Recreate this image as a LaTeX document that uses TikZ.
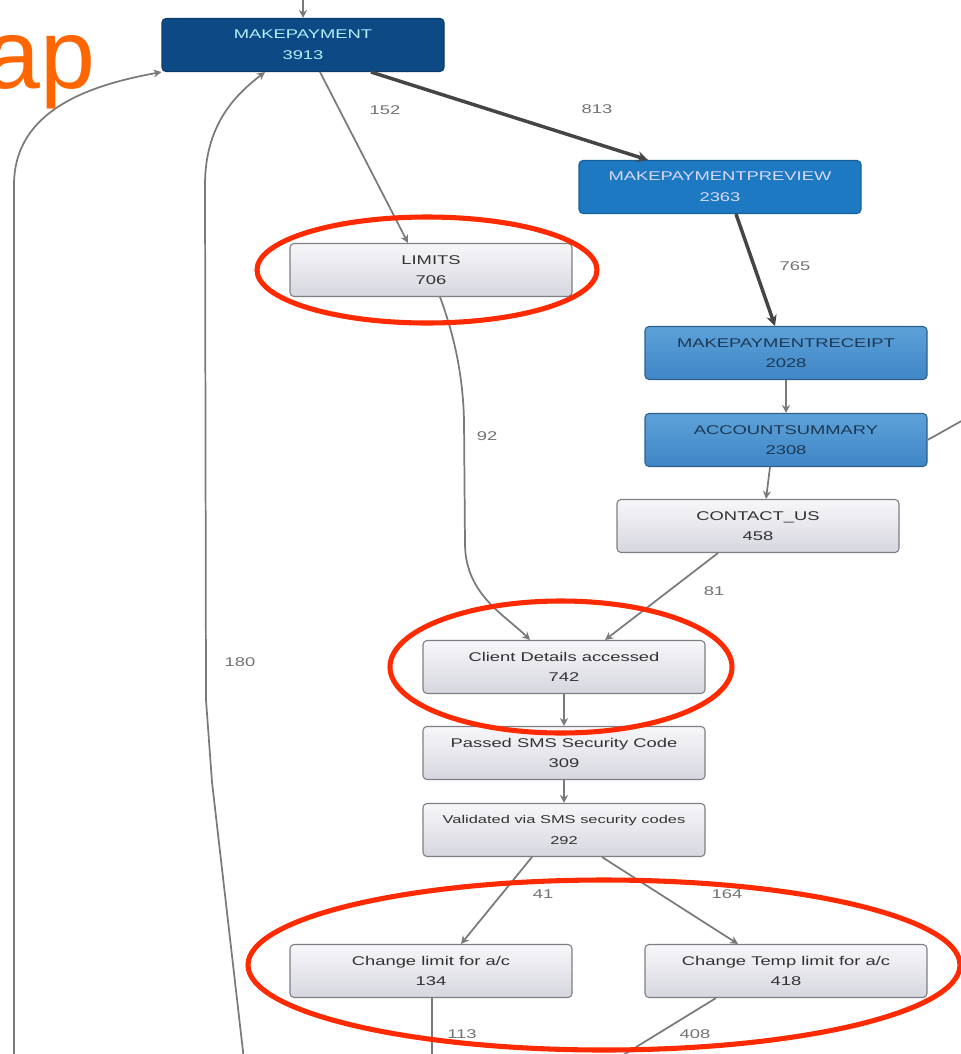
\documentclass[tikz,border=0pt]{standalone}
\usepackage{fontspec}
\setmainfont{Liberation Sans}
\newfontfamily\boxfont[FakeStretch=1.45]{Liberation Sans}
\newfontfamily\titlefont{Liberation Sans}
\usetikzlibrary{arrows.meta,calc,shapes.geometric}
\definecolor{mpdark}{HTML}{0D4A85}
\definecolor{mpdarkb}{HTML}{0A3C6E}
\definecolor{prevblue}{HTML}{1D79C1}
\definecolor{recblue}{HTML}{5DA1D8}
\definecolor{recblueb}{HTML}{3F86C6}
\definecolor{recborder}{HTML}{2E5F8E}
\definecolor{lighttop}{HTML}{F7F7FA}
\definecolor{lightbot}{HTML}{D6D6DF}
\definecolor{lightborder}{HTML}{7E7E86}
\definecolor{boxtext}{HTML}{333333}
\definecolor{edgegray}{HTML}{7A7A7A}
\definecolor{edgedark}{HTML}{454545}
\definecolor{redmark}{HTML}{FF2A00}
\definecolor{orangetitle}{HTML}{FF6600}
\tikzset{
  boxbase/.style={rectangle, rounded corners=3pt, minimum width=211.5pt, minimum height=39.75pt,
    align=center, inner sep=0pt, font=\boxfont\fontsize{9.5}{15.5}\selectfont},
  darkbox/.style={boxbase, fill=mpdark, draw=mpdarkb, line width=0.8pt, text=blue!20!cyan!30!white},
  prevbox/.style={boxbase, fill=prevblue, draw=prevblue!80!black, line width=0.8pt, text=white!85!blue},
  recbox/.style={boxbase, top color=recblue, bottom color=recblueb, draw=recborder, line width=0.8pt, text=recborder!60!black},
  lightbox/.style={boxbase, top color=lighttop, bottom color=lightbot, draw=lightborder, line width=0.8pt, text=boxtext},
  edge/.style={draw=edgegray, line width=1.3pt, -{Stealth[length=6pt,width=6pt]}},
  thickedge/.style={draw=edgedark, line width=2.6pt, -{Stealth[length=8pt,width=8pt]}},
  plainedge/.style={draw=edgegray, line width=1.3pt},
  elabel/.style={font=\boxfont\fontsize{9.5}{11}\selectfont, text=gray!90!black, inner sep=0pt},
  redring/.style={draw=redmark, line width=3.8pt},
}
\begin{document}
\begin{tikzpicture}[x=0.75pt,y=-0.75pt]
\useasboundingbox (0,0) rectangle (961,1054);
\fill[white] (0,0) rectangle (961,1054);
\clip (0,0) rectangle (961,1054);

% title fragment
\node[font=\titlefont\fontsize{74}{80}\selectfont, text=orangetitle, anchor=base east, inner sep=0pt] (title) at (96,88) {ap};

% nodes
\node[darkbox] (mp) at (303,45) {MAKEPAYMENT\\3913};
\node[prevbox] (prev) at (720,187) {MAKEPAYMENTPREVIEW\\2363};
\node[lightbox] (lim) at (431,270) {LIMITS\\706};
\node[recbox] (rec) at (786,353) {MAKEPAYMENTRECEIPT\\2028};
\node[recbox] (acc) at (786,440) {ACCOUNTSUMMARY\\2308};
\node[lightbox] (con) at (758,526) {CONTACT\_US\\458};
\node[lightbox] (cli) at (564,667) {Client Details accessed\\742};
\node[lightbox] (pas) at (564,753) {Passed SMS Security Code\\309};
\node[lightbox, font=\boxfont\fontsize{8.5}{15.5}\selectfont] (val) at (564,830) {Validated via SMS security codes\\292};
\node[lightbox] (chl) at (431,971) {Change limit for a/c\\134};
\node[lightbox] (cht) at (786,971) {Change Temp limit for a/c\\418};

% free ends
\coordinate (topin) at (303,-2);
\coordinate (left1) at (14,1060);
\coordinate (left2) at (244,1060);
\coordinate (accout) at (965,419);
\coordinate (chlout) at (432,1060);
\coordinate (chtout) at (615,1060);

% connectors
\draw[edge] (topin) -- (mp.north);
\draw[edge] (left1) -- (14,185) .. controls (14,110) and (90,85) .. (mp.south west);
\draw[edge] (left2) -- (212,782) -- (206,700) -- (205,185) .. controls (205,125) and (235,95) .. ($(mp.south)+(-38,0)$);
\draw[edge] ($(mp.south)+(17,0)$) -- ($(lim.north)+(-23,0)$);
\draw[thickedge] ($(mp.south)+(68,0)$) -- ($(prev.north)+(-72,0)$);
\draw[thickedge] ($(prev.south)+(16,0)$) -- ($(rec.north)+(-11,0)$);
\draw[edge] (rec.south) -- (acc.north);
\draw[edge] ($(acc.south)+(-16,0)$) -- ($(con.north)+(8,0)$);
\draw[plainedge] (acc.east) -- (accout);
\draw[edge] ($(con.south)+(-40,0)$) -- ($(cli.north)+(41,0)$);
\draw[edge] ($(lim.south)+(9,0)$) .. controls (456,340) and (463,380) .. (464,420) -- (465,545) .. controls (466,595) and (505,615) .. ($(cli.north)+(-34,0)$);
\draw[edge] (cli.south) -- (pas.north);
\draw[edge] (pas.south) -- (val.north);
\draw[edge] ($(val.south)+(-32,0)$) -- ($(chl.north)+(30,0)$);
\draw[edge] ($(val.south)+(38,0)$) -- ($(cht.north)+(-48,0)$);
\draw[plainedge] ($(chl.south)+(1,0)$) -- (chlout);
\draw[plainedge] ($(cht.south)+(-70,0)$) -- (chtout);

% edge labels
\node[elabel] (l152) at (385,110) {152};
\node[elabel] (l813) at (597,109) {813};
\node[elabel] (l765) at (795,266) {765};
\node[elabel] (l92) at (487,436) {92};
\node[elabel] (l81) at (714,591) {81};
\node[elabel] (l180) at (240,662) {180};
\node[elabel] (l41) at (543,894) {41};
\node[elabel] (l164) at (727,894) {164};
\node[elabel] (l113) at (462,1034) {113};
\node[elabel] (l408) at (695,1034) {408};

% red highlight rings
\draw[redring] (427,270) ellipse [x radius=127.5pt, y radius=39.75pt];
\draw[redring] (561,667) ellipse [x radius=128.25pt, y radius=49.5pt];
\draw[redring] (604,965) ellipse [x radius=267pt, y radius=63.75pt];
\end{tikzpicture}
\end{document}
